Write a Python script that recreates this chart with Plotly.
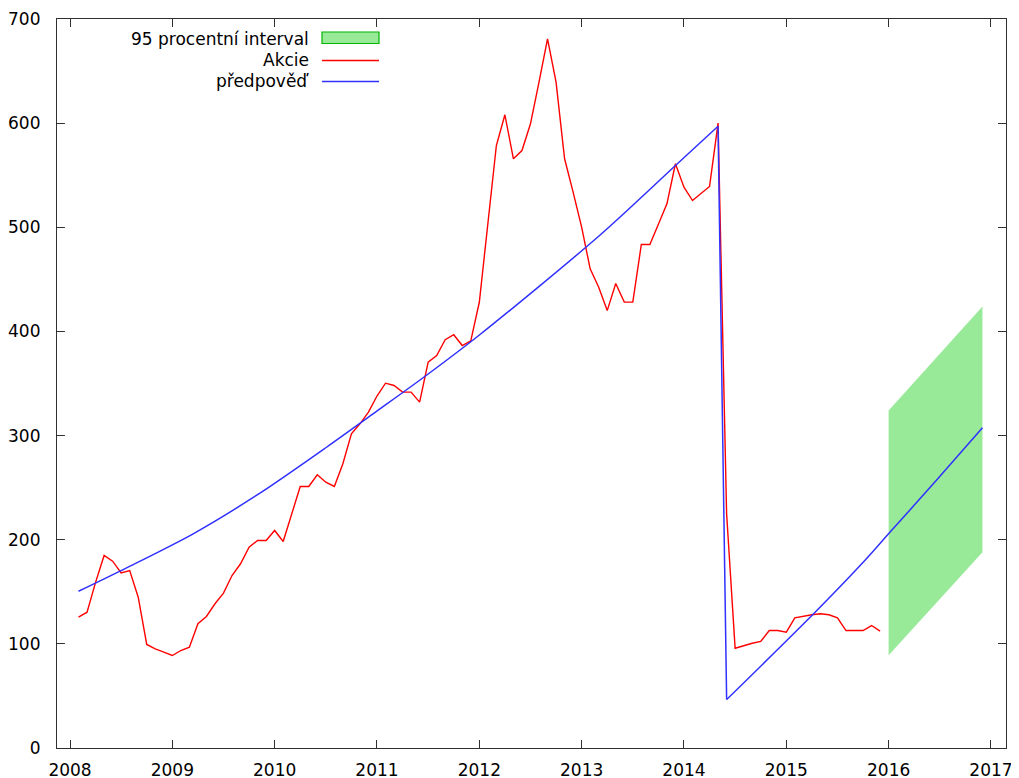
import plotly.graph_objects as go

# ---- data ----
# monthly stock values ("Akcie"), Feb 2008 .. Dec 2015
akcie = [125.6, 130.4, 159, 184.9, 179.4, 168.2, 170.4, 144.8, 99.4, 95.2, 92, 88.8,
         93.6, 96.8, 119.3, 126.3, 138.5, 148.7, 165.6, 176.9, 192.8, 199.3, 199.3, 208.9,
         198.3, 224, 251.1, 251.1, 262.3, 255.2, 251.1, 272.9, 301.7, 311.3, 322.5, 338,
         350.3, 348.1, 341.7, 341.7, 332.1, 370.5, 376.9, 392, 396.8, 386.5, 391, 428,
         503, 578.5, 608, 565.8, 573.7, 599.4, 639.4, 681, 639.4, 565.8, 533.7, 500.1,
         460.1, 442.5, 420, 446, 428.1, 428.1, 483.5, 483.5, 503, 522.5, 561, 538.5,
         525.7, 532.1, 539.2, 600, 225, 95.8, 98.4, 100.6, 102.3, 112.8, 112.8, 111.2,
         125, 126.6, 127.9, 128.9, 127.9, 125, 112.8, 112.8, 112.8, 117.6, 112.2]
akcie_start_year = 2008
akcie_start_month = 2

# forecast ("předpověď"), two fitted segments
pred1_x = [2008.083, 2008.553, 2009.204, 2009.856, 2010.507, 2011.008, 2011.467,
           2012.004, 2013.175, 2013.917, 2014.333]
pred1_y = [150.5, 173, 205.7, 244.7, 288.8, 324.1, 356.7, 396.8, 492.1, 559.3, 597]
pred2_x = [2014.417, 2015.257, 2015.767, 2016.008, 2016.467, 2016.917]
pred2_y = [46.5, 127.9, 180, 206.6, 257, 307.5]

# 95 % interval band
band_x = [2016.0, 2016.917]
band_upper = [324, 424]
band_lower = [89, 188]

year_ticks = list(range(2008, 2018))
y_ticks = list(range(0, 701, 100))

legend_labels = ["95 procentní interval", "Akcie", "předpověď"]

# ---- styling ----
OFF = 8  # page body margin
W, H = 1019 - OFF, 778 - OFF
# plot area in window pixels: x 57..1006, y 19..748
ML = 57 - OFF
MT = 19 - OFF
MR = (1019 - 1006) - OFF + OFF  # right edge relative to figure width
MB = 778 - 748 - OFF + OFF
MR = W - (1006 - OFF)
MB = H - (748 - OFF)
FONT = "DejaVu Sans"
FS = 17
RED = "#ff0000"
BLUE = "#3030ff"
GREEN_FILL = "#98ea98"
GREEN_EDGE = "#00b400"

akcie_x = [akcie_start_year + (akcie_start_month - 1 + i) / 12 for i in range(len(akcie))]

fig = go.Figure()

fig.add_trace(go.Scatter(
    x=band_x + band_x[::-1], y=band_upper + band_lower[::-1],
    fill="toself", fillcolor=GREEN_FILL, line=dict(width=0),
    mode="lines", hoverinfo="skip", showlegend=False))

fig.add_trace(go.Scatter(x=akcie_x, y=akcie, mode="lines",
                         line=dict(color=RED, width=1.4), showlegend=False))

fig.add_trace(go.Scatter(x=pred1_x, y=pred1_y, mode="lines",
                         line=dict(color=BLUE, width=1.5, shape="spline", smoothing=0.8),
                         showlegend=False))
fig.add_trace(go.Scatter(x=[pred1_x[-1], pred2_x[0]], y=[pred1_y[-1], pred2_y[0]],
                         mode="lines", line=dict(color=BLUE, width=1.5), showlegend=False))
fig.add_trace(go.Scatter(x=pred2_x, y=pred2_y, mode="lines",
                         line=dict(color=BLUE, width=1.5, shape="spline", smoothing=0.8),
                         showlegend=False))

PW, PH = W - ML - MR, H - MT - MB


def px(xw):
    # window x pixel -> paper coordinate
    return (xw - OFF - ML) / PW


def py(yw):
    # window y pixel -> paper coordinate
    return (H - MB - (yw - OFF)) / PH


# custom legend: text right-aligned, sample on the right
rows = [38.5, 60.5, 81.5]
text_right = 311
s0, s1 = 322, 379
for lab, r in zip(legend_labels, rows):
    fig.add_annotation(x=px(text_right), y=py(r), xref="paper", yref="paper",
                       text=lab, showarrow=False, xanchor="right", yanchor="middle",
                       font=dict(family=FONT, size=FS, color="#000000"))
fig.add_shape(type="rect", xref="paper", yref="paper",
              x0=px(s0), x1=px(s1), y0=py(43.5), y1=py(32),
              fillcolor=GREEN_FILL, line=dict(color=GREEN_EDGE, width=1.2))
fig.add_shape(type="line", xref="paper", yref="paper",
              x0=px(s0), x1=px(s1), y0=py(60.5), y1=py(60.5),
              line=dict(color=RED, width=1.4))
fig.add_shape(type="line", xref="paper", yref="paper",
              x0=px(s0), x1=px(s1), y0=py(81.5), y1=py(81.5),
              line=dict(color=BLUE, width=1.5))

axis_common = dict(showgrid=False, zeroline=False, showline=True, linecolor="#303030",
                   linewidth=1.2, mirror="ticks", ticks="inside", ticklen=8,
                   tickwidth=1.2, tickcolor="#303030", automargin=False,
                   tickfont=dict(family=FONT, size=FS, color="#000000"))

fig.update_xaxes(range=[2007.873, 2017.147], tickvals=year_ticks,
                 ticktext=[str(y) for y in year_ticks], ticklabelstandoff=6, **axis_common)
fig.update_yaxes(range=[0, 700], tickvals=y_ticks, ticklabelstandoff=12, **axis_common)

fig.update_layout(width=W, height=H, margin=dict(l=ML, r=MR, t=MT, b=MB, autoexpand=False),
                  plot_bgcolor="white", paper_bgcolor="white", showlegend=False)

fig.write_html("out.html")
